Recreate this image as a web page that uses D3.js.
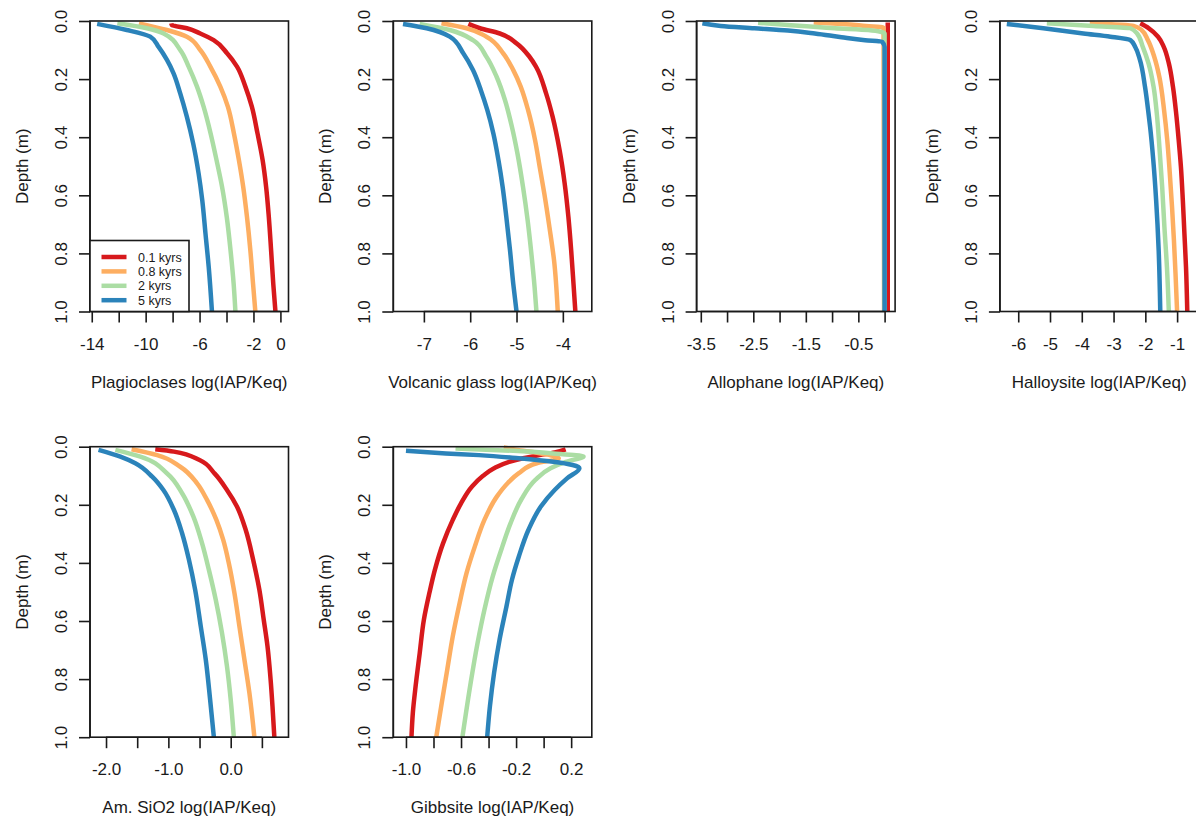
<!DOCTYPE html>
<html>
<head>
<meta charset="utf-8">
<script src="https://cdn.jsdelivr.net/npm/d3@7"></script>
<style>
  body { margin: 0; background: #fff; }
  svg { display: block; }
</style>
</head>
<body>
<svg id="chart"></svg>
<script>
// series: model run times
const seriesNames = ['0.1 kyrs', '0.8 kyrs', '2 kyrs', '5 kyrs']
const seriesColors = ['#D7191C', '#FDAE61', '#ABDDA4', '#2B83BA']

// depth axis (m)
const depthTicks = [0, 0.2, 0.4, 0.6, 0.8, 1.0]
const depthLabels = ['0.0', '0.2', '0.4', '0.6', '0.8', '1.0']

// each series: [depth, log(IAP/Keq)] pairs, order = seriesNames
const plagioclases = [
  [[0.008,-8.1],[0.014,-8.05],[0.025,-6.94],[0.043,-5.95],[0.066,-4.95],[0.111,-3.96],[0.157,-3.22],[0.226,-2.6],[0.295,-2.12],[0.387,-1.7],[0.479,-1.32],[0.571,-1.06],[0.675,-0.86],[0.79,-0.69],[0.905,-0.53],[1,-0.37]],
  [[0.008,-10.5],[0.031,-8.42],[0.054,-6.94],[0.1,-5.95],[0.157,-5.2],[0.226,-4.46],[0.295,-3.9],[0.387,-3.45],[0.479,-3.08],[0.571,-2.76],[0.675,-2.48],[0.79,-2.23],[0.905,-2.03],[1,-1.86]],
  [[0.008,-12.1],[0.025,-9.91],[0.043,-8.67],[0.1,-7.43],[0.157,-6.81],[0.226,-6.19],[0.295,-5.7],[0.387,-5.18],[0.479,-4.74],[0.571,-4.33],[0.675,-3.98],[0.79,-3.7],[0.905,-3.47],[1,-3.34]],
  [[0.01,-13.6],[0.031,-11.4],[0.054,-9.66],[0.089,-9.04],[0.134,-8.42],[0.18,-7.93],[0.25,-7.43],[0.33,-6.94],[0.422,-6.47],[0.525,-6.07],[0.617,-5.8],[0.732,-5.56],[0.847,-5.32],[1,-5.08]]
]
const volcanicGlass = [
  [[0.01,-6.04],[0.025,-5.79],[0.043,-5.36],[0.077,-5.0],[0.123,-4.72],[0.157,-4.58],[0.25,-4.36],[0.33,-4.22],[0.445,-4.07],[0.56,-3.96],[0.675,-3.88],[0.79,-3.82],[0.905,-3.77],[1,-3.73]],
  [[0.008,-6.62],[0.025,-6.08],[0.054,-5.65],[0.111,-5.29],[0.169,-5.07],[0.226,-4.91],[0.307,-4.75],[0.41,-4.6],[0.502,-4.5],[0.594,-4.4],[0.709,-4.29],[0.824,-4.19],[1,-4.11]],
  [[0.01,-7.09],[0.031,-6.44],[0.066,-5.94],[0.123,-5.65],[0.192,-5.43],[0.272,-5.25],[0.364,-5.1],[0.456,-4.98],[0.571,-4.86],[0.686,-4.76],[0.8,-4.68],[0.916,-4.61],[1,-4.57]],
  [[0.01,-7.45],[0.025,-6.94],[0.054,-6.44],[0.111,-6.15],[0.169,-5.94],[0.238,-5.77],[0.307,-5.63],[0.387,-5.5],[0.479,-5.39],[0.571,-5.3],[0.675,-5.22],[0.79,-5.14],[0.905,-5.07],[1,-5.0]]
]
const allophane = [
  [[0.005,0.06],[1,0.06]],
  [[0.005,-1.35],[0.01,-0.8],[0.017,-0.35],[0.022,-0.02],[1,-0.01]],
  [[0.006,-2.41],[0.014,-1.84],[0.025,-0.95],[0.031,-0.31],[0.043,0.0],[1,0.0]],
  [[0.008,-3.47],[0.017,-3.12],[0.025,-2.48],[0.033,-1.84],[0.043,-1.33],[0.056,-0.82],[0.066,-0.37],[0.071,-0.05],[0.089,0.0],[1,0.0]]
]
const halloysite = [
  [[0.008,-2.16],[0.025,-1.89],[0.054,-1.6],[0.089,-1.42],[0.146,-1.26],[0.227,-1.13],[0.318,-1.03],[0.41,-0.95],[0.502,-0.88],[0.617,-0.82],[0.732,-0.77],[0.847,-0.72],[1,-0.68]],
  [[0.008,-3.75],[0.017,-2.37],[0.031,-2.12],[0.066,-1.92],[0.123,-1.72],[0.192,-1.56],[0.307,-1.41],[0.41,-1.31],[0.525,-1.23],[0.64,-1.16],[0.755,-1.1],[0.87,-1.05],[1,-1.0]],
  [[0.008,-5.1],[0.017,-3.63],[0.025,-2.47],[0.043,-2.26],[0.089,-2.08],[0.146,-1.9],[0.227,-1.74],[0.318,-1.64],[0.445,-1.55],[0.571,-1.47],[0.709,-1.4],[0.847,-1.32],[1,-1.26]],
  [[0.01,-6.36],[0.025,-5.21],[0.043,-3.95],[0.054,-3.1],[0.066,-2.47],[0.089,-2.32],[0.134,-2.17],[0.227,-2.01],[0.318,-1.9],[0.364,-1.85],[0.479,-1.75],[0.617,-1.66],[0.79,-1.58],[1,-1.53]]
]
const amSiO2 = [
  [[0.009,-1.21],[0.017,-0.91],[0.046,-0.5],[0.092,-0.26],[0.149,-0.06],[0.206,0.1],[0.286,0.24],[0.389,0.36],[0.493,0.46],[0.596,0.53],[0.687,0.59],[0.802,0.64],[0.893,0.67],[1,0.7]],
  [[0.009,-1.59],[0.029,-1.18],[0.069,-0.81],[0.126,-0.54],[0.183,-0.38],[0.252,-0.23],[0.321,-0.12],[0.401,-0.03],[0.504,0.06],[0.619,0.14],[0.733,0.22],[0.848,0.3],[1,0.38]],
  [[0.011,-1.85],[0.034,-1.45],[0.092,-1.02],[0.16,-0.78],[0.24,-0.6],[0.332,-0.46],[0.424,-0.35],[0.527,-0.24],[0.641,-0.14],[0.756,-0.06],[0.871,0.0],[1,0.05]],
  [[0.011,-2.12],[0.034,-1.77],[0.057,-1.53],[0.103,-1.26],[0.149,-1.08],[0.218,-0.91],[0.298,-0.78],[0.389,-0.67],[0.493,-0.57],[0.619,-0.48],[0.733,-0.4],[0.871,-0.33],[1,-0.27]]
]
const gibbsite = [
  [[0.009,0.16],[0.02,0.08],[0.029,-0.03],[0.04,-0.15],[0.052,-0.25],[0.074,-0.36],[0.1,-0.44],[0.137,-0.52],[0.195,-0.6],[0.252,-0.66],[0.332,-0.73],[0.424,-0.79],[0.504,-0.83],[0.596,-0.87],[0.71,-0.9],[0.825,-0.93],[0.916,-0.95],[1,-0.96]],
  [[0.003,-0.29],[0.01,-0.2],[0.025,0.0],[0.04,0.11],[0.057,-0.05],[0.091,-0.18],[0.125,-0.26],[0.172,-0.34],[0.252,-0.43],[0.344,-0.5],[0.435,-0.56],[0.538,-0.61],[0.653,-0.66],[0.767,-0.7],[0.882,-0.74],[1,-0.78]],
  [[0.006,-0.64],[0.014,-0.22],[0.023,0.07],[0.034,0.29],[0.052,0.16],[0.074,0.05],[0.114,-0.06],[0.18,-0.16],[0.263,-0.24],[0.344,-0.3],[0.447,-0.37],[0.561,-0.43],[0.676,-0.48],[0.813,-0.53],[1,-0.59]],
  [[0.014,-1.0],[0.023,-0.71],[0.029,-0.47],[0.04,-0.18],[0.052,0.07],[0.074,0.26],[0.109,0.17],[0.149,0.08],[0.206,-0.02],[0.286,-0.11],[0.378,-0.18],[0.458,-0.23],[0.55,-0.27],[0.664,-0.32],[0.779,-0.36],[0.893,-0.39],[1,-0.41]]
]

// panel definitions: x ticks, which ones carry a label (R drops overlapping ones)
const panels = [
  { title: 'Plagioclases log(IAP/Keq)', data: plagioclases, col: 0, row: 0, domain: [-14.13, 0.6],
    ticks: [-14, -12, -10, -8, -6, -4, -2, 0], labels: ['-14', '', '-10', '', '-6', '', '-2', '0'], legend: true },
  { title: 'Volcanic glass log(IAP/Keq)', data: volcanicGlass, col: 1, row: 0, domain: [-7.66, -3.375],
    ticks: [-7, -6, -5, -4], labels: ['-7', '-6', '-5', '-4'] },
  { title: 'Allophane log(IAP/Keq)', data: allophane, col: 2, row: 0, domain: [-3.58, 0.2],
    ticks: [-3.5, -3, -2.5, -2, -1.5, -1, -0.5, 0], labels: ['-3.5', '', '-2.5', '', '-1.5', '', '-0.5', ''] },
  { title: 'Halloysite log(IAP/Keq)', data: halloysite, col: 3, row: 0, domain: [-6.577, -0.33],
    ticks: [-6, -5, -4, -3, -2, -1], labels: ['-6', '-5', '-4', '-3', '-2', '-1'] },
  { title: 'Am. SiO2 log(IAP/Keq)', data: amSiO2, col: 0, row: 1, domain: [-2.257, 0.927],
    ticks: [-2, -1.5, -1, -0.5, 0, 0.5], labels: ['-2.0', '', '-1.0', '', '0.0', ''] },
  { title: 'Gibbsite log(IAP/Keq)', data: gibbsite, col: 1, row: 1, domain: [-1.092, 0.35],
    ticks: [-1, -0.8, -0.6, -0.4, -0.2, 0, 0.2], labels: ['-1.0', '', '-0.6', '', '-0.2', '', '0.2'] }
]

const width = 1196
const height = 818
const FONT = "'Liberation Sans', Arial, Helvetica, sans-serif"
const INK = '#1a1a1a'
const boxW = 198.5
const boxH = 290.5
const colLeft = [90, 393.3, 696.6, 999.9]
const rowTop = [21, 446.7]

const svg = d3.select('#chart')
  .attr('width', width)
  .attr('height', height)
  .attr('font-family', FONT)

svg.append('rect').attr('width', width).attr('height', height).attr('fill', '#fff')

panels.forEach(p => {
  const g = svg.append('g')
    .attr('transform', `translate(${colLeft[p.col]},${rowTop[p.row]})`)

  const x = d3.scaleLinear().domain(p.domain).range([0, boxW])
  const y = d3.scaleLinear().domain([0, 1]).range([0, boxH])

  // ─── curves (depth is monotone, so smooth along y) ───
  const line = d3.line()
    .x(d => x(d[1]))
    .y(d => y(d[0]))
    .curve(d3.curveMonotoneY)

  p.data.forEach((s, i) => {
    g.append('path')
      .attr('d', line(s))
      .attr('fill', 'none')
      .attr('stroke', seriesColors[i])
      .attr('stroke-width', 4.5)
      .attr('stroke-linejoin', 'round')
      .attr('stroke-linecap', 'butt')
  })

  // ─── frame ───
  g.append('rect')
    .attr('width', boxW).attr('height', boxH)
    .attr('fill', 'none')
    .attr('stroke', INK).attr('stroke-width', 1.6)

  // ─── x axis (R style: line only from first to last tick) ───
  const xAxis = d3.axisBottom(x)
    .tickValues(p.ticks)
    .tickSize(11)
    .tickSizeOuter(0)
    .tickFormat((d, i) => p.labels[i])

  const xg = g.append('g')
    .attr('transform', `translate(0,${boxH})`)
    .call(xAxis)
  xg.select('.domain').remove()
  xg.append('line')
    .attr('x1', x(p.ticks[0])).attr('x2', x(p.ticks[p.ticks.length - 1]))
    .attr('stroke', INK).attr('stroke-width', 1.6)
  xg.selectAll('.tick line').attr('stroke', INK).attr('stroke-width', 1.6)
  xg.selectAll('.tick text')
    .attr('y', 38).attr('dy', null)
    .attr('fill', INK)
    .attr('font-size', '17px')
    .attr('font-family', FONT)

  // ─── y axis (rotated labels) ───
  const yAxis = d3.axisLeft(y)
    .tickValues(depthTicks)
    .tickSize(11)
    .tickSizeOuter(0)
    .tickFormat((d, i) => depthLabels[i])

  const yg = g.append('g').call(yAxis)
  yg.select('.domain').remove()
  yg.append('line')
    .attr('y1', y(0)).attr('y2', y(1))
    .attr('stroke', INK).attr('stroke-width', 1.6)
  yg.selectAll('.tick line').attr('stroke', INK).attr('stroke-width', 1.6)
  yg.selectAll('.tick text')
    .attr('x', null).attr('dy', null)
    .attr('transform', 'translate(-23,0) rotate(-90)')
    .attr('text-anchor', 'middle')
    .attr('fill', INK)
    .attr('font-size', '17px')
    .attr('font-family', FONT)

  // ─── axis titles ───
  g.append('text')
    .attr('transform', `translate(-62,${boxH / 2}) rotate(-90)`)
    .attr('text-anchor', 'middle')
    .attr('font-size', '17px')
    .attr('fill', INK)
    .text('Depth (m)')

  g.append('text')
    .attr('x', boxW / 2)
    .attr('y', boxH + 76)
    .attr('text-anchor', 'middle')
    .attr('font-size', '17px')
    .attr('fill', INK)
    .text(p.title)

  // ─── legend ───
  if (p.legend) {
    const lg = g.append('g').attr('transform', `translate(0,${boxH - 71})`)
    lg.append('rect')
      .attr('width', 99).attr('height', 71)
      .attr('fill', '#fff')
      .attr('stroke', INK).attr('stroke-width', 1.6)

    seriesNames.forEach((name, i) => {
      const yy = 16.5 + i * 14.4
      lg.append('line')
        .attr('x1', 11.5).attr('x2', 36.5)
        .attr('y1', yy).attr('y2', yy)
        .attr('stroke', seriesColors[i]).attr('stroke-width', 4.5)
      lg.append('text')
        .attr('x', 48).attr('y', yy)
        .attr('dy', '0.36em')
        .attr('font-size', '12.5px')
        .attr('fill', INK)
        .text(name)
    })
  }
})
</script>
</body>
</html>
